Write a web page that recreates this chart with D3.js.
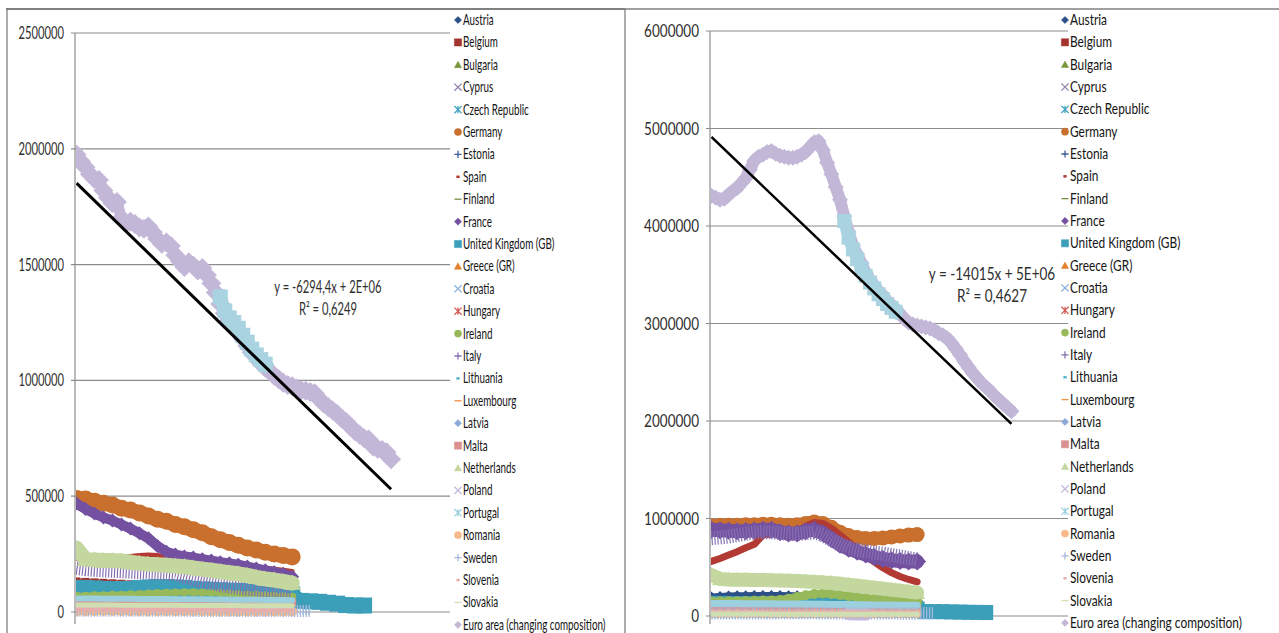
<!DOCTYPE html>
<html><head><meta charset="utf-8">
<script src="https://cdn.jsdelivr.net/npm/d3@7"></script>
<style>body{margin:0;background:#fff}svg{display:block}</style>
</head><body>
<svg id="chart" width="1279" height="633"></svg>
<script>
// ---------- data (values in thousands) ----------
const countries = ["Austria","Belgium","Bulgaria","Cyprus","Czech Republic","Germany","Estonia","Spain","Finland","France","United Kingdom (GB)","Greece (GR)","Croatia","Hungary","Ireland","Italy","Lithuania","Luxembourg","Latvia","Malta","Netherlands","Poland","Portugal","Romania","Sweden","Slovenia","Slovakia","Euro area (changing composition)"];

const countryStep = 6;   // period index step of country series
const euroStep = 3;      // period index step of euro area series

const leftTicks = [0, 500, 1000, 1500, 2000, 2500];
const rightTicks = [0, 1000, 2000, 3000, 4000, 5000, 6000];

// left panel
const austriaL = [62,62,61,61,60,60,59,59,58,58,57,57,56,56,55,55,54,54,53,53,52,52,51,51,50];
const belgiumL = [132,130,128,126,124,122,120,118,116,114,112,110,108,106,104,102,100,98,97,96,95,94,93,92,91];
const bulgariaL = [36,36,35,35,35,34,34,34,33,33,33,33,32,32,32,31,31,31,30,30,30,30,29,29,29];
const cyprusL = [5,5,5,6,6,6,6,6,6,6,6,6,6,6,6,6,6,6,6,6,6,5,5,5,5];
const czechL = [65,64,64,63,63,62,62,62,61,61,60,60,60,59,59,58,58,57,57,56,56,55,55,54,54];
const germanyL = [490,488,478,470,462,448,440,428,415,400,392,378,368,355,342,325,312,300,288,276,268,258,250,244,238];
const estoniaL = [8,8,8,8,8,7,7,7,7,7,7,7,7,7,7,6,6,6,6,6,6,6,6,6,6];
const spainL = [232,232,233,234,235,236,240,244,246,244,238,234,230,226,222,218,214,210,205,200,195,190,185,180,175];
const finlandL = [24,24,24,23,23,23,23,22,22,22,22,22,21,21,21,21,21,20,20,20,20,20,19,19,19];
const franceL = [468,445,425,408,395,378,360,340,318,285,260,248,240,235,228,222,215,210,204,196,188,180,172,165,152];
const ukL = [104,104,102,100,99,99,100,104,106,108,108,106,104,100,98,96,94,92,91,88,86,84,82,80,76,48,46,44,40,36,30,28,28];
const greeceL = [48,48,48,47,47,47,47,46,46,46,46,45,45,45,45,44,44,44,43,43,43,42,42,42,41];
const croatiaL = [12,12,12,12,11,11,11,11,11,11,10,10,10,10,10,10,9,9,9,9,9,9,8,8,8,8,8];
const hungaryL = [40,40,40,40,39,39,39,39,39,38,38,38,38,37,37,37,37,36,36,36,36,35,35,35,35];
const irelandL = [70,70,72,72,74,75,77,78,80,82,83,84,85,85,84,83,82,80,78,76,74,72,70,68,66];
const italyL = [190,185,182,180,178,176,174,172,170,168,166,162,152,142,132,124,116,110,105,100,97,94,92,90,88];
const lithuaniaL = [18,18,18,18,18,17,17,17,17,17,17,17,16,16,16,16,16,16,16,15,15,15,15,15,15];
const luxembourgL = [28,28,28,28,28,28,27,27,27,27,27,27,27,26,26,26,26,26,26,26,25,25,25,25,25];
const latviaL = [10,10,10,10,10,10,10,10,10,10,9,9,9,9,9,9,9,9,9,9,9,9,8,8,8];
const maltaL = [45,45,45,44,44,44,44,44,43,43,43,43,43,42,42,42,42,42,41,41,41,41,41,40,40];
const netherlandsL = [275,228,225,222,222,220,215,210,206,204,202,199,196,190,185,180,175,170,165,158,150,143,138,132,125];
const polandL = [null,null,null,null,null,null,null,null,null,null,null,null,null,null,null,null,null,14,12,null,null,null,null,null,null];
const portugalL = [58,58,58,57,57,57,57,56,56,56,56,55,55,55,55,54,54,54,53,53,53,52,52,52,51];
const romaniaL = [3,3,4,4,4,4,3,3,3,3,3,3,3,3,3,2,2,2,2,2,2,2,2,2,2];
const swedenL = [5,5,5,5,5,5,5,5,5,5,5,5,5,4,4,4,4,4,4,4,4,4,4,4,4,4,4];
const sloveniaL = [12,12,12,12,12,12,12,12,11,11,11,11,11,11,11,11,11,11,10,10,10,10,10,10,10];
const slovakiaL = [30,30,30,30,30,29,29,29,29,29,29,29,28,28,28,28,28,28,28,27,27,27,27,27,27];
const euroL = [1975,1945,1920,1890,1870,1865,1820,1790,1765,1770,1700,1680,1685,1675,1660,1655,1665,1640,1610,1590,1595,1580,1540,1515,1490,1510,1495,1475,1485,1455,1420,1380,1330,1290,1260,1235,1210,1180,1150,1120,1100,1075,1055,1040,1020,1005,990,980,975,965,958,955,950,945,920,900,885,870,855,835,820,800,780,765,750,745,715,705,700,690,660];
const euroLinkL = [1360,1300,1270,1250,1225,1195,1165,1135,1110,1090,1070];
const euroLinkStartL = 96;
const trendL = { slope: -6294.4, intercept: 1858000, r2: "0,6249", shown: "y = -6294,4x + 2E+06" };

// right panel
const austriaR = [190,195,200,202,203,204,205,205,204,203,202,200,198,195,192,188,184,180,176,172,168,164,160,156,152];
const belgiumR = [100,102,104,106,108,110,112,113,114,115,116,116,116,115,114,113,112,111,110,108,106,104,102,100,98];
const bulgariaR = [62,62,61,61,61,60,60,60,60,59,59,59,58,58,58,57,57,56,56,56,55,55,55,54,54];
const cyprusR = [10,10,10,10,10,11,11,11,11,11,11,11,11,11,11,11,11,11,10,10,10,10,10,10,10];
const czechR = [150,150,149,149,148,148,147,147,146,146,145,144,143,142,141,140,138,136,134,132,130,128,126,124,122];
const germanyR = [925,930,930,932,935,935,940,940,935,930,935,950,965,950,910,860,825,805,795,795,800,810,820,830,835];
const estoniaR = [15,15,15,15,15,15,14,14,14,14,14,14,14,14,14,13,13,13,13,13,13,13,13,13,13];
const spainR = [560,590,625,660,700,735,830,840,850,850,860,920,960,950,900,830,760,690,620,555,495,445,405,375,350];
const finlandR = [60,60,60,59,59,59,59,58,58,58,58,58,57,57,57,57,56,56,56,56,55,55,55,55,55];
const franceR = [885,880,875,870,872,878,885,885,860,845,845,870,885,850,790,730,690,660,630,605,585,572,565,560,558];
const ukR = [130,130,128,128,126,125,124,122,120,118,116,114,112,110,108,105,102,98,95,92,88,84,80,76,72,46,45,44,42,40,38,37,36];
const greeceR = [100,100,101,102,102,103,104,104,105,105,104,103,102,100,98,96,94,92,90,88,86,84,82,80,78];
const croatiaR = [16,16,16,16,16,16,16,16,17,17,17,17,17,16,16,16,15,15,15,15,15,15,14,14,14,14,14];
const hungaryR = [90,90,90,89,89,89,88,88,88,88,87,87,87,86,86,86,85,85,85,84,84,84,83,83,83];
const irelandR = [150,150,152,152,154,156,158,160,165,178,195,212,225,230,225,215,205,195,185,175,165,160,155,150,145];
const italyR = [800,805,815,830,845,855,860,860,850,840,840,850,860,830,780,740,700,680,665,650,640,625,610,595,580];
const lithuaniaR = [42,42,42,42,41,41,41,41,41,40,40,40,40,40,39,39,39,39,39,38,38,38,38,38,37];
const luxembourgR = [20,20,20,20,20,20,20,20,20,19,19,19,19,19,19,19,19,19,19,18,18,18,18,18,18];
const latviaR = [30,30,30,30,30,30,29,29,29,29,29,29,29,28,28,28,28,28,28,28,27,27,27,27,27];
const maltaR = [75,75,75,74,74,74,74,73,73,73,73,72,72,72,72,71,71,71,70,70,70,70,69,69,69];
const netherlandsR = [420,380,375,372,372,370,368,366,364,362,360,355,350,345,338,330,320,310,300,290,280,270,260,250,240];
const polandR = [null,null,null,null,null,null,null,null,null,null,null,null,null,null,null,null,22,20,20,null,null,null,null,null,null];
const portugalR = [128,128,127,127,126,126,125,125,124,124,123,122,121,120,119,118,117,116,115,114,113,112,111,110,110];
const romaniaR = [25,25,25,25,25,25,24,24,24,24,24,24,24,24,23,23,23,23,23,23,23,22,22,22,22];
const swedenR = [36,36,36,36,36,35,35,35,35,35,34,34,34,34,34,33,33,33,33,33,32,32,32,32,32,31,31];
const sloveniaR = [35,35,35,35,35,34,34,34,34,34,34,33,33,33,33,33,33,32,32,32,32,32,31,31,31];
const slovakiaR = [20,20,20,20,20,20,20,19,19,19,19,19,19,19,19,19,18,18,18,18,18,18,18,18,18];
const euroR = [4310,4290,4270,4280,4320,4360,4390,4440,4490,4580,4670,4710,4730,4760,4770,4740,4720,4710,4700,4700,4710,4730,4760,4810,4860,4870,4780,4650,4530,4400,4270,4100,3940,3800,3710,3620,3520,3450,3390,3330,3290,3230,3190,3150,3100,3050,3010,2990,2980,2970,2960,2950,2930,2900,2880,2850,2800,2740,2680,2610,2550,2490,2440,2390,2350,2310,2260,2220,2180,2140,2100];
const euroLinkR = [4050,3880,3760,3660,3570,3490,3420,3360,3300,3250,3200,3160,3120];
const euroLinkStartR = 93;
const trendR = { slope: -14015, intercept: 4927000, r2: "0,4627", shown: "y = -14015x + 5E+06" };

const leftSeries = [austriaL,belgiumL,bulgariaL,cyprusL,czechL,germanyL,estoniaL,spainL,finlandL,franceL,ukL,greeceL,croatiaL,hungaryL,irelandL,italyL,lithuaniaL,luxembourgL,latviaL,maltaL,netherlandsL,polandL,portugalL,romaniaL,swedenL,sloveniaL,slovakiaL,euroL];
const rightSeries = [austriaR,belgiumR,bulgariaR,cyprusR,czechR,germanyR,estoniaR,spainR,finlandR,franceR,ukR,greeceR,croatiaR,hungaryR,irelandR,italyR,lithuaniaR,luxembourgR,latviaR,maltaR,netherlandsR,polandR,portugalR,romaniaR,swedenR,sloveniaR,slovakiaR,euroR];

// ---------- styles ----------
const colors = ["#2b4f86","#a3332f","#78963c","#8f82ad","#46a6c2","#c9702e","#3d5f9a","#b33a33","#7a8c44","#7451a0","#3c9fb9","#e2812e","#89b0dc","#d65c5a","#97b95a","#8470b0","#57b3cb","#f08f3e","#8eaad8","#d9908e","#c3d79e","#c4badb","#9dd0df","#f7b98a","#a6b9da","#e6aeac","#cfdfb2","#c3b7d7"];
const shapes = ["diamond","square","triangle","x","star","circle","plus","sdash","ldash","diamond","square","triangle","x","star","circle","plus","sdash","ldash","diamond","square","triangle","x","star","circle","plus","sdash","ldash","diamond"];
const widthL = [6,6,5,5,6,15,5,5,5,10,14,5,10,5,6,14,5,5,5,6,15,13,6,8,12,5,5,16];
const widthR = [8,6,5,5,7,13,5,7,5,14,13,5,10,5,8,14,5,5,5,6,14,13,7,7,12,5,5,12];
const hatched = new Set([12, 15, 24]);
const linkColor = "#a9d3e0";

const svg = d3.select("#chart");
const FONT = "Lato, 'Open Sans', sans-serif";

function shapePath(type, r) {
  switch (type) {
    case "diamond": return `M0,${-r}L${r},0L0,${r}L${-r},0Z`;
    case "square": return `M${-r},${-r}h${2*r}v${2*r}h${-2*r}Z`;
    case "triangle": return `M0,${-r}L${r},${r*0.8}L${-r},${r*0.8}Z`;
    case "circle": return `M${-r},0a${r},${r} 0 1,0 ${2*r},0a${r},${r} 0 1,0 ${-2*r},0`;
    case "x": return `M${-r},${-r}L${r},${r}M${-r},${r}L${r},${-r}`;
    case "plus": return `M0,${-r}V${r}M${-r},0H${r}`;
    case "star": return `M${-r},${-r}L${r},${r}M${-r},${r}L${r},${-r}M0,${-r}V${r}`;
    case "sdash": return `M${-r*0.55},0H${r*0.55}`;
    case "ldash": return `M${-r},0H${r}`;
  }
}
const filledShapes = new Set(["diamond","square","triangle","circle"]);

function addText(g, x, y, str, sx, size, anchor, fill) {
  return g.append("text")
    .attr("transform", `translate(${x},${y}) scale(${sx},1)`)
    .attr("text-anchor", anchor)
    .attr("font-family", FONT)
    .attr("font-size", size)
    .attr("fill", fill)
    .text(str);
}

function drawPanel(p) {
  const g = svg.append("g");
  const x = d3.scaleLinear().domain([-1, p.lastIndex]).range([p.axisX, p.plotRight]);
  const y = d3.scaleLinear().domain([0, d3.max(p.ticks)]).range([p.yZero, p.yTop]);

  // gridlines + tick labels
  p.ticks.forEach(t => {
    g.append("line").attr("x1", p.axisX - 4).attr("x2", p.gridRight)
      .attr("y1", y(t)).attr("y2", y(t)).attr("stroke", "#8c8c8c").attr("stroke-width", 1.2);
    addText(g, p.axisX - 11, y(t) + 6, String(t * 1000), p.sx, 16.5, "end", "#2e2e2e");
  });
  g.append("line").attr("x1", p.axisX).attr("x2", p.axisX)
    .attr("y1", p.yTop).attr("y2", 624).attr("stroke", "#8c8c8c").attr("stroke-width", 1.2);

  const clipId = "clip" + p.id;
  svg.append("clipPath").attr("id", clipId).append("rect")
    .attr("x", p.axisX + 1).attr("y", p.yTop - 20)
    .attr("width", p.gridRight - p.axisX).attr("height", 627 - p.yTop + 20);
  const plot = g.append("g").attr("clip-path", `url(#${clipId})`);

  function drawBand(values, start, step, color, shape, w, hatch, spiky) {
    const pts = values.map((v, i) => v == null ? null : [x(start + i * step), y(v)]);
    const line = d3.line().defined(d => d != null).x(d => d[0]).y(d => d[1]);
    const path = plot.append("path").attr("d", line(pts))
      .attr("fill", "none").attr("stroke", color).attr("stroke-width", spiky ? w - 5 : w)
      .attr("stroke-linejoin", "round");
    if (hatch) {
      path.attr("stroke-dasharray", "1.2,1.7").attr("stroke-linecap", "butt");
      return;
    }
    path.attr("stroke-linecap", shape === "square" ? "square" : "round");
    if (filledShapes.has(shape)) {
      const r = shape === "diamond" ? w / 2 + 2 : w / 2 + 1;
      plot.append("g").selectAll("path").data(pts.filter(d => d != null)).join("path")
        .attr("transform", d => `translate(${d[0]},${d[1]})`)
        .attr("d", shapePath(shape, r)).attr("fill", color);
    }
  }

  p.series.forEach((vals, i) => {
    const isEuro = i === p.series.length - 1;
    const step = isEuro ? euroStep : countryStep;
    drawBand(vals, 0, step, colors[i], shapes[i], p.widths[i], hatched.has(i), isEuro && p.spikyEuro);
  });
  drawBand(p.link, p.linkStart, euroStep, linkColor, "square", p.linkWidth, false, false);

  // linear trend of the euro area series (Excel x = period index + 1)
  const lastEuro = (p.series[p.series.length - 1].length - 1) * euroStep;
  const tr = [0, lastEuro].map(i => [x(i), y((p.trend.intercept + p.trend.slope * (i + 1)) / 1000)]);
  plot.append("path").attr("d", d3.line()(tr)).attr("stroke", "#000")
    .attr("stroke-width", p.trendWidth).attr("fill", "none");

  addText(g, p.eqX, p.eqY, p.trend.shown, p.sx, 16.5, "middle", "#2e2e2e");
  addText(g, p.eqX, p.eqY + 22, "R² = " + p.trend.r2, p.sx, 16.5, "middle", "#2e2e2e");

  // legend
  countries.forEach((name, i) => {
    const ly = 20 + i * p.legendGap;
    const s = shapes[i];
    const filled = filledShapes.has(s);
    const r = s === "sdash" ? 3 : (s === "ldash" ? 3.5 : 3.6);
    g.append("path").attr("transform", `translate(${p.legendX},${ly})`)
      .attr("d", shapePath(s, r))
      .attr("fill", filled ? colors[i] : "none")
      .attr("stroke", colors[i])
      .attr("stroke-width", filled ? 0.5 : (s === "sdash" ? 2.5 : 1.3));
    addText(g, p.legendX + 5, ly + 5, name, p.sx, 14.5, "start", "#141414");
  });
}

drawPanel({
  id: "L", series: leftSeries, widths: widthL, ticks: leftTicks,
  axisX: 75, plotRight: 448, gridRight: 450, lastIndex: 248,
  yZero: 612, yTop: 33, sx: 0.68, spikyEuro: true,
  link: euroLinkL, linkStart: euroLinkStartL, linkWidth: 13,
  trend: trendL, trendWidth: 3, eqX: 328, eqY: 293,
  legendX: 458, legendGap: 22.4
});
drawPanel({
  id: "R", series: rightSeries, widths: widthR, ticks: rightTicks,
  axisX: 710, plotRight: 1060, gridRight: 1068, lastIndex: 244,
  yZero: 616, yTop: 31, sx: 0.82, spikyEuro: false,
  link: euroLinkR, linkStart: euroLinkStartR, linkWidth: 12,
  trend: trendR, trendWidth: 2.5, eqX: 992, eqY: 280,
  legendX: 1065, legendGap: 22.33
});

// chart frames
const frame = svg.append("g").attr("stroke", "#808080").attr("fill", "none");
frame.append("line").attr("x1", 6).attr("x2", 625).attr("y1", 9).attr("y2", 9).attr("stroke-width", 2.2);
frame.append("line").attr("x1", 7).attr("x2", 7).attr("y1", 9).attr("y2", 633).attr("stroke-width", 1.3);
frame.append("line").attr("x1", 625).attr("x2", 625).attr("y1", 9).attr("y2", 633).attr("stroke-width", 1.3);
frame.append("line").attr("x1", 625).attr("x2", 1279).attr("y1", 9).attr("y2", 9).attr("stroke-width", 1.5);
</script>
</body></html>
